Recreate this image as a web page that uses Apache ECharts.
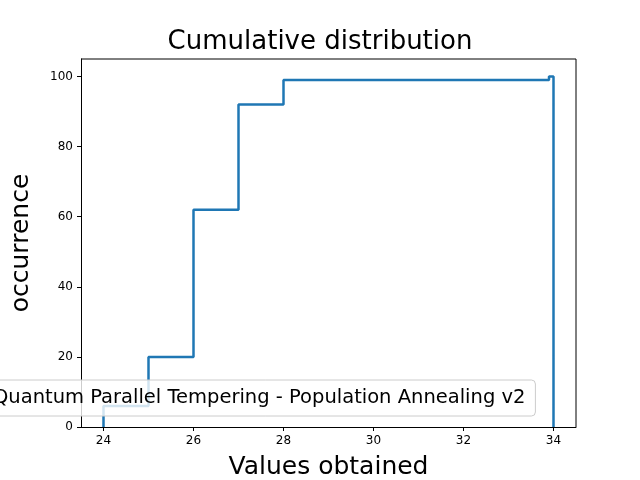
<!DOCTYPE html>
<html>
<head>
<meta charset="utf-8">
<script src="https://cdn.jsdelivr.net/npm/echarts@6/dist/echarts.min.js"></script>
<style>body{margin:0}#c{width:640px;height:480px}</style>
</head>
<body>
<div id="c"></div>
<script>
// bin edges and cumulative counts of the step plot
var edges = [24, 25, 26, 27, 28, 33.9, 34];
var cumulative = [6, 20, 62, 92, 99, 100];
var xTicks = [24, 26, 28, 30, 32, 34];
var seriesName = 'Quantum Parallel Tempering - Population Annealing v2';

var points = [[edges[0], 0]];
cumulative.forEach(function (v, i) {
    points.push([edges[i], v]);
    points.push([edges[i + 1], v]);
});
points.push([edges[edges.length - 1], 0]);

var font = 'DejaVu Sans';
var chart = echarts.init(document.getElementById('c'));
chart.setOption({
    backgroundColor: '#fff',
    animation: false,
    title: {
        text: 'Cumulative distribution',
        left: 'center', top: 24,
        textStyle: { fontFamily: font, fontWeight: 'normal', fontSize: 26, color: '#000' }
    },
    grid: { left: 81, right: 64, top: 59, bottom: 53, containLabel: false, outerBoundsMode: 'none' },
    legend: {
        data: [{ name: seriesName }],
        left: -53, top: 380,
        backgroundColor: 'rgba(255,255,255,0.8)',
        borderColor: '#ccc', borderWidth: 1, borderRadius: 4,
        padding: [8, 10],
        itemWidth: 30,
        textStyle: { fontFamily: font, fontSize: 19.5, color: '#000' }
    },
    xAxis: {
        type: 'value', min: 23.5, max: 34.5,
        name: 'Values obtained', nameLocation: 'middle', nameGap: 28,
        nameTextStyle: { fontFamily: font, fontSize: 25, color: '#000' },
        axisLine: { onZero: false, lineStyle: { color: '#000' } },
        axisTick: { show: true, customValues: xTicks, length: 4, lineStyle: { color: '#000' } },
        axisLabel: { customValues: xTicks, fontFamily: font, fontSize: 12, color: '#000' },
        splitLine: { show: false }
    },
    yAxis: {
        type: 'value', min: 0, max: 105, interval: 20,
        name: 'occurrence', nameLocation: 'middle', nameGap: 47,
        nameTextStyle: { fontFamily: font, fontSize: 25, color: '#000' },
        axisLine: { show: true, lineStyle: { color: '#000' } },
        axisTick: { show: true, length: 4, lineStyle: { color: '#000' } },
        axisLabel: { fontFamily: font, fontSize: 12, color: '#000', showMaxLabel: false },
        splitLine: { show: false }
    },
    graphic: [{
        type: 'line', shape: { x1: 576, y1: 59, x2: 576, y2: 427 }, silent: true,
        style: { stroke: '#000', lineWidth: 1 }
    }, {
        type: 'line', shape: { x1: 81, y1: 59, x2: 576, y2: 59 }, silent: true,
        style: { stroke: '#000', lineWidth: 1 }
    }],
    series: [{
        name: seriesName, type: 'line', data: points,
        showSymbol: false, symbol: 'none',
        lineStyle: { color: '#1f77b4', width: 2.5 },
        itemStyle: { color: '#1f77b4' },
        z: 1
    }]
});
</script>
</body>
</html>
